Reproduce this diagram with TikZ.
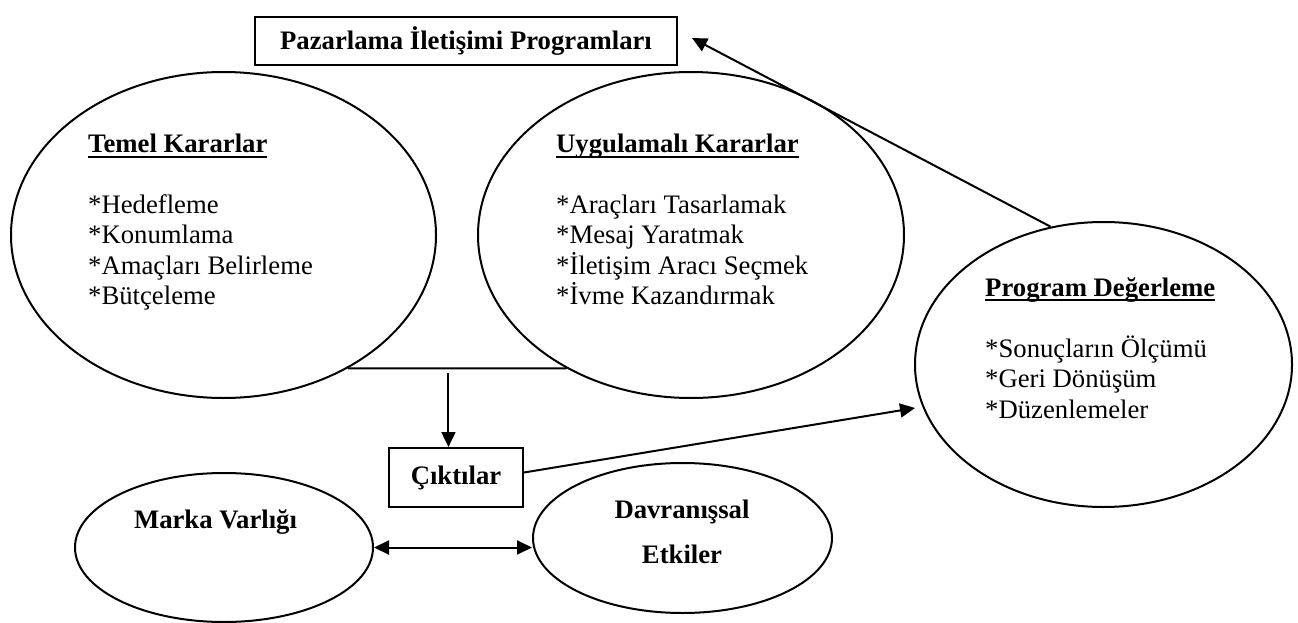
\documentclass[tikz,border=0pt]{standalone}
\usepackage{fontspec}
\setmainfont{Liberation Serif}
\usetikzlibrary{shapes.geometric,arrows.meta,calc}
% bold heading with a thick underline
\newcommand\headline[1]{{\bfseries\setbox0\hbox{#1}\rlap{\rule[-5pt]{\wd0}{1.9pt}}\box0}}
\begin{document}
\begin{tikzpicture}[x=1pt,y=-1pt,
  every node/.style={font=\fontsize{26.7}{30.6}\selectfont},
  bubble/.style={ellipse, draw, line width=2pt, inner sep=0pt},
  boxnode/.style={rectangle, draw, line width=2pt, inner sep=0pt,
    font=\fontsize{26.7}{30.6}\selectfont\bfseries},
  link/.style={line width=2pt},
  flow/.style={line width=2pt, -{Triangle[length=15pt,width=14pt]}},
  listline/.style={anchor=base west, inner sep=0pt},
  headtxt/.style={anchor=base west, inner sep=0pt,
    font=\fontsize{26.7}{30.6}\selectfont\bfseries},
]
\useasboundingbox (0,0) rectangle (1298,623);

% boxes and ellipses
\node[boxnode, minimum width=422pt, minimum height=48pt] (pic) at (466,41) {Pazarlama İletişimi Programları};
\node[bubble, minimum width=425pt, minimum height=326pt] (temel) at (223.5,235) {};
\node[bubble, minimum width=426pt, minimum height=326pt] (uyg) at (691,235) {};
\node[bubble, minimum width=377pt, minimum height=285pt] (prog) at (1103.5,364.5) {};
\node[boxnode, minimum width=134pt, minimum height=59pt] (cik) at (456,477.5) {Çıktılar};
\node[bubble, minimum width=298pt, minimum height=149pt] (marka) at (224,547.5) {};
\node[bubble, minimum width=299pt, minimum height=150pt] (dav) at (682.5,538) {};

% texts inside the ellipses
\node[headtxt] (temelh) at (88,153) {\headline{Temel Kararlar}};
\foreach \t [count=\i] in {*Hedefleme, *Konumlama, *Amaçları Belirleme, *Bütçeleme}
  \node[listline] (temel\i) at (88,{213+30.6*(\i-1)}) {\t};

\node[headtxt] (uygh) at (556,153) {\headline{Uygulamalı Kararlar}};
\foreach \t [count=\i] in {*Araçları Tasarlamak, *Mesaj Yaratmak, *İletişim Aracı Seçmek, *İvme Kazandırmak}
  \node[listline] (uyg\i) at (556,{213+30.6*(\i-1)}) {\t};

\node[headtxt] (progh) at (985,296) {\headline{Program Değerleme}};
\foreach \t [count=\i] in {*Sonuçların Ölçümü, *Geri Dönüşüm, *Düzenlemeler}
  \node[listline] (prog\i) at (985,{357+30.6*(\i-1)}) {\t};

\node[headtxt, anchor=base] (markah) at (215.5,528) {Marka Varlığı};
\node[headtxt, anchor=base] (davh1) at (682,518) {Davranışsal};
\node[headtxt, anchor=base] (davh2) at (682,563) {Etkiler};

% connectors
\coordinate (fbtip) at (692,38);
\coordinate (evalin) at (915,408);
\draw[flow] (prog.111) -- (fbtip);
\draw[link] (temel.-47) -- (uyg.-133) coordinate[pos=0.46] (join);
\draw[flow, shorten <=5pt] (join) -- (join |- cik.north);
\draw[flow] ($(cik.east)+(0,-5)$) -- (evalin);
\draw[link, {Triangle[length=15pt,width=14pt]}-{Triangle[length=15pt,width=14pt]}]
  (marka.east) -- (marka.east -| dav.west);
\end{tikzpicture}
\end{document}
